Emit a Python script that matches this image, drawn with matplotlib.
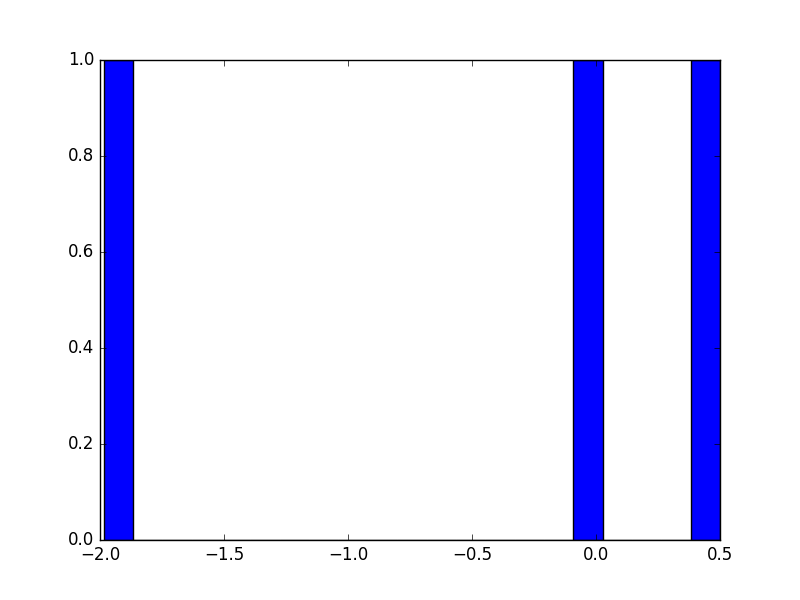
import numpy as np
import matplotlib
matplotlib.use("Agg")
import matplotlib.pyplot as plt

plt.style.use('classic')

# sample values
values = [-1.985, -0.03, 0.5]
n_bins = 21

fig = plt.figure(figsize=(8, 6))
ax = fig.add_subplot(111)
ax.hist(values, bins=n_bins)
ax.set_xlim(-2.0, 0.5)
ax.set_ylim(0, 1.0)
fig.savefig('out.png', dpi=100)
